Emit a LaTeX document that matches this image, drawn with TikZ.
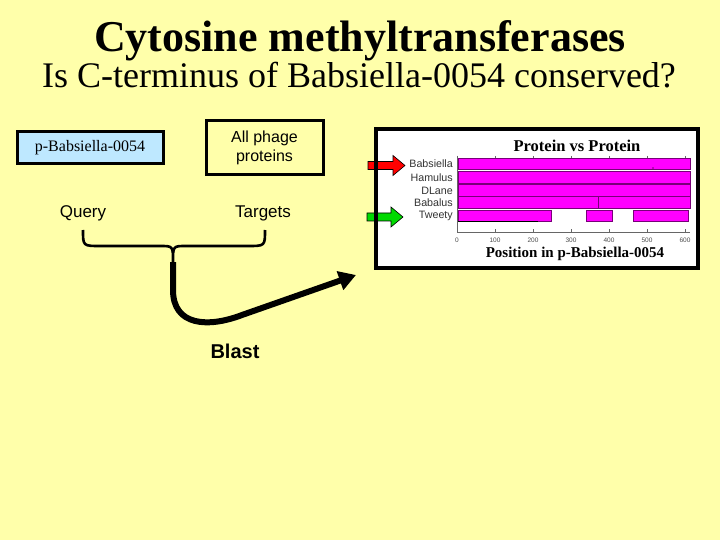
\documentclass[tikz,border=0pt]{standalone}
\usepackage{fontspec}
\setmainfont{Liberation Serif}
\setsansfont{Liberation Sans}
\usetikzlibrary{arrows.meta}
\definecolor{bg}{RGB}{255,255,170}
\definecolor{boxblue}{RGB}{190,232,255}
\definecolor{mag}{RGB}{255,0,255}
\definecolor{magline}{RGB}{120,0,120}
\tikzset{
  thickbox/.style={draw=black,line width=3pt,inner sep=0pt},
  sanslbl/.style={font=\sffamily\fontsize{17}{19}\selectfont},
  rowlbl/.style={font=\sffamily\fontsize{10.7}{11}\selectfont,anchor=east,inner sep=0pt,text=black!80},
  tick/.style={font=\sffamily\fontsize{6.5}{7}\selectfont,text=black!70,inner sep=0pt},
  bar/.style={fill=mag,draw=magline,line width=0.8pt},
  blockarrow/.style={draw=black,line width=0.6pt,line join=miter}
}
\begin{document}
\begin{tikzpicture}[x=1pt,y=-1pt]
\fill[bg] (0,0) rectangle (720,540);
\useasboundingbox (0,0) rectangle (720,540);
% titles
\node[font=\bfseries\fontsize{44}{48}\selectfont,anchor=base] (title) at (360,52) {Cytosine methyltransferases};
\node[font=\fontsize{36}{40}\selectfont,anchor=base] (sub) at (359,88) {Is C-terminus of Babsiella-0054 conserved?};
% boxes
\node[thickbox,fill=boxblue,minimum width=146pt,minimum height=32pt,font=\fontsize{16}{18}\selectfont] (pb) at (90,148) {p-Babsiella-0054};
\node[thickbox,fill=bg,minimum width=117pt,minimum height=54pt,font=\sffamily\fontsize{16}{19}\selectfont,align=center] (all) at (264.5,148) {All phage\\proteins};
\node[sanslbl] (query) at (83,213) {Query};
\node[sanslbl] (targets) at (263,213) {Targets};
\node[font=\sffamily\bfseries\fontsize{20}{22}\selectfont] (blast) at (235,351) {Blast};
% brace
\coordinate (bl) at (83,230);
\coordinate (br) at (265,230);
\coordinate (bt) at (173,262);
\draw[line width=2.6pt]
  (bl) .. controls (83,246) .. (100,246) -- (160,246) .. controls (173,246) .. (bt)
  (br) .. controls (265,246) .. (248,246) -- (186,246) .. controls (173,246) .. (bt);
% curved arrow
\coordinate (at) at (356,275);
\draw[line width=6pt,-{Triangle[length=17pt,width=19pt]}]
  (bt) -- (173,290) .. controls (173,326) and (208,328) .. (242,315) -- (at);
% chart
\fill[white] (376,129) rectangle (698,268);
% block arrows
\draw[blockarrow,fill=red] (368,161.5) -- (393,161.5) -- (393,155.5) -- (405,165.5) -- (393,175.5) -- (393,169.5) -- (368,169.5) -- cycle;
\draw[blockarrow,fill=green!85!black] (367,213) -- (391,213) -- (391,207) -- (403,217) -- (391,227) -- (391,221) -- (367,221) -- cycle;
\draw[black,line width=3.5pt] (376,129) rectangle (698,268);
\node[font=\bfseries\fontsize{16.5}{18}\selectfont] (ct) at (577,146) {Protein vs Protein};
\draw[black!60,line width=0.5pt] (457,156) -- (457,232) -- (690,232);
\foreach \v/\l in {0/0,1/100,2/200,3/300,4/400,5/500,6/600}{
  \draw[black!60,line width=0.5pt] (457+\v*38,232) -- (457+\v*38,229);
  \draw[black!60,line width=0.5pt] (457+\v*38,156) -- (457+\v*38,158);
  \node[tick] at (457+\v*38,240) {\l};
}
\foreach \y/\n in {164/Babsiella,177.5/Hamulus,190.5/DLane,202.5/Babalus}{
  \draw[bar] (458,\y-5.6) rectangle (690,\y+5.6);
  \node[rowlbl] at (453,\y) {\n};
}
\draw[magline,line width=0.8pt] (598,196.9) -- (598,208.1);
\fill[magline] (653,168) circle (0.8pt);
\draw[bar] (458,210) rectangle (551,221);
\draw[bar] (586,210) rectangle (612,221);
\draw[bar] (633,210) rectangle (688,221);
\draw[black,line width=1pt] (458,221.5) -- (538,221.5);
\node[rowlbl] at (453,216) {Tweety};
\node[font=\bfseries\fontsize{15}{17}\selectfont] (xl) at (575,254) {Position in p-Babsiella-0054};
\end{tikzpicture}
\end{document}
